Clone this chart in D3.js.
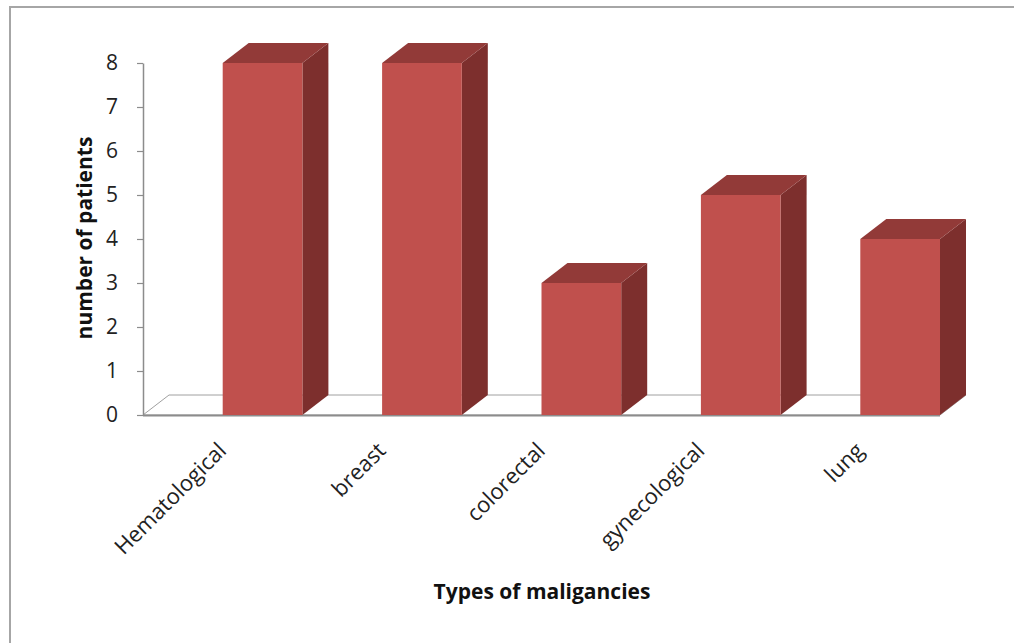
<!DOCTYPE html>
<html><head><meta charset="utf-8">
<script src="https://cdn.jsdelivr.net/npm/d3@7"></script>
<style>body{margin:0;background:#fff}svg{display:block}</style>
</head><body>
<svg id="chart" width="1014" height="643"></svg>
<script>
const categories = ["Hematological", "breast", "colorectal", "gynecological", "lung"];
const values = [8, 8, 3, 5, 4];
const yTicks = [0, 1, 2, 3, 4, 5, 6, 7, 8];
const yTitle = "number of patients";
const xTitle = "Types of maligancies";

(function () {
const svg = d3.select("#chart");
const W = 1014, H = 643;
const font = "'Open Sans', 'Liberation Sans', sans-serif";
const pLeft = 143, pRight = 940, pTop = 63, pBottom = 415;
const dx = 26, dy = -20;

// frame (only top and left visible)
svg.append("path").attr("d", `M10,${H} L10,7 L${W},7`).attr("fill", "none")
  .attr("stroke", "#a6a6a6").attr("stroke-width", 2);

const x = d3.scaleBand().domain(categories).range([pLeft, pRight]).padding(0);
const y = d3.scaleLinear().domain([0, 8]).range([pBottom, pTop]);

// floor
const floor = svg.append("g");
floor.append("path")
  .attr("d", `M${pLeft},${pBottom} L${pLeft + dx},${pBottom + dy} L${pRight + dx},${pBottom + dy} L${pRight},${pBottom} Z`)
  .attr("fill", "#fff").attr("stroke", "#a0a0a0").attr("stroke-width", 1);
floor.append("line").attr("x1", pLeft).attr("x2", pRight).attr("y1", pBottom + 0.5).attr("y2", pBottom + 0.5)
  .attr("stroke", "#8c8c8c").attr("stroke-width", 2);

// y axis
const yAxis = d3.axisLeft(y).tickValues(yTicks).tickSize(6).tickPadding(19).tickSizeOuter(0);
const ga = svg.append("g").attr("transform", `translate(${pLeft},0)`).call(yAxis);
ga.select(".domain").attr("stroke", "#8c8c8c").attr("stroke-width", 1.5);
ga.selectAll(".tick line").attr("stroke", "#8c8c8c").attr("stroke-width", 1.2);
ga.selectAll(".tick text").attr("font-family", font).attr("font-size", 21).attr("fill", "#222");

// bars
const bw = x.bandwidth() / 2;
const bars = svg.append("g").selectAll("g").data(categories).join("g");
bars.each(function (c, i) {
  const g = d3.select(this);
  const x0 = x(c) + x.bandwidth() / 2, x1 = x0 + bw;
  const yt = y(values[i]), yb = y(0);
  g.append("path").attr("d", `M${x1},${yt} L${x1 + dx},${yt + dy} L${x1 + dx},${yb + dy} L${x1},${yb} Z`)
    .attr("fill", "#7d2f2d");
  g.append("path").attr("d", `M${x0},${yt} L${x0 + dx},${yt + dy} L${x1 + dx},${yt + dy} L${x1},${yt} Z`)
    .attr("fill", "#923a38");
  g.append("rect").attr("x", x0).attr("y", yt).attr("width", bw).attr("height", yb - yt)
    .attr("fill", "#c0504d");
});

// x labels
svg.append("g").selectAll("text").data(categories).join("text")
  .attr("transform", c => `translate(${x(c) + x.bandwidth() / 2 + 5},${pBottom + 37}) rotate(-45)`)
  .attr("text-anchor", "end").attr("font-family", font).attr("font-size", 22).attr("fill", "#222")
  .text(c => c);

// titles
svg.append("text").attr("transform", `translate(92,238) rotate(-90)`).attr("text-anchor", "middle")
  .attr("font-family", font).attr("font-size", 21).attr("font-weight", "bold").attr("fill", "#111")
  .text(yTitle);
svg.append("text").attr("x", 542).attr("y", 599).attr("text-anchor", "middle")
  .attr("font-family", font).attr("font-size", 21).attr("font-weight", "bold").attr("fill", "#111")
  .text(xTitle);
})();
</script>
</body></html>
